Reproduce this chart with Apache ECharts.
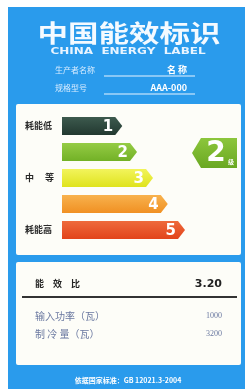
<!DOCTYPE html>
<html>
<head>
<meta charset="utf-8">
<script src="https://cdn.jsdelivr.net/npm/echarts@6/dist/echarts.min.js"></script>
<style>
html,body{margin:0;padding:0;background:#ffffff;}
#c{width:247px;height:389px;}
</style>
</head>
<body>
<div id="c"></div>
<script>
// ---- data ----
const grades = ['1', '2', '3', '4', '5'];
const barLengths = [49, 61, 74, 86, 100];
const sideLabels = ['耗能低', '', '中　 等', '', '耗能高'];
const ratedGrade = 2;
const titleCn = '中国能效标识';
const titleEn = 'CHINA  ENERGY  LABEL';
const infoLabels = ['生产者名称', '规格型号'];
const infoValues = ['名 称', 'AAA-000'];
const eerLabel = '能　效　比';
const eerValue = '3.20';
const specLabels = ['输入功率（瓦）', '制 冷 量（瓦）'];
const specValues = ['1000', '3200'];
const footer = '依据国家标准：GB 12021.3-2004';

// ---- style ----
const CJK = '"Noto Sans CJK SC", "Noto Sans", sans-serif';
const BLUE = '#2a9bec';
const barColors = [['#3d5a4e', '#223830'], ['#95cc45', '#72b126'], ['#f2f45c', '#dfe31c'], ['#f8b24e', '#f09022'], ['#ee6a3c', '#e2431a']];

const chart = echarts.init(document.getElementById('c'), null, {renderer: 'canvas'});

const graphics = [
  {type: 'rect', shape: {x: 8, y: 7, width: 237, height: 382}, style: {fill: BLUE}, z: -10},
  {type: 'rect', shape: {x: 16, y: 104, width: 225, height: 151, r: 2}, style: {fill: '#fdfdf8'}, z: -9},
  {type: 'rect', shape: {x: 16, y: 262, width: 225, height: 103, r: 2}, style: {fill: '#fdfdf8'}, z: -9},
  {type: 'text', x: 129, y: 33, scaleX: 1.27, style: {text: titleCn, fill: '#f4faff', font: 'bold 24px ' + CJK, textAlign: 'center', textVerticalAlign: 'middle'}},
  {type: 'text', x: 128, y: 52, scaleX: 1.5, style: {text: titleEn, fill: '#e8f4ff', font: 'bold 8px "DejaVu Sans", sans-serif', textAlign: 'center', textVerticalAlign: 'middle'}}
];
infoLabels.forEach((t, i) => {
  const y = 70 + i * 18;
  graphics.push({type: 'text', x: 55, y: y, style: {text: t, fill: '#d8ecff', font: '8px ' + CJK, textAlign: 'left', textVerticalAlign: 'middle'}});
  graphics.push({type: 'line', shape: {x1: 104, y1: y + 6, x2: 195, y2: y + 6}, style: {stroke: '#e8f4ff', lineWidth: 1}});
  graphics.push({type: 'text', x: 187, y: y, style: {text: infoValues[i], fill: '#ffffff', font: 'bold 9px ' + CJK, textAlign: 'right', textVerticalAlign: 'middle'}});
});
graphics.push({type: 'text', x: 35, y: 284, style: {text: eerLabel, fill: '#222222', font: 'bold 9px ' + CJK, textAlign: 'left', textVerticalAlign: 'middle'}});
graphics.push({type: 'text', x: 222, y: 284, style: {text: eerValue, fill: '#222222', font: 'bold 11px "DejaVu Sans", sans-serif', textAlign: 'right', textVerticalAlign: 'middle'}});
graphics.push({type: 'line', shape: {x1: 22, y1: 297, x2: 237, y2: 297}, style: {stroke: '#333333', lineWidth: 2}});
specLabels.forEach((t, i) => {
  const y = 316 + i * 18;
  graphics.push({type: 'text', x: 35, y: y, style: {text: t, fill: '#6a78a0', font: '10px ' + CJK, textAlign: 'left', textVerticalAlign: 'middle'}});
  graphics.push({type: 'text', x: 222, y: y, style: {text: specValues[i], fill: '#6a78a0', font: '8px "Liberation Serif", serif', textAlign: 'right', textVerticalAlign: 'middle'}});
});
graphics.push({type: 'text', x: 128, y: 380, style: {text: footer, fill: '#ffffff', font: 'bold 7px ' + CJK, textAlign: 'center', textVerticalAlign: 'middle'}});

chart.setOption({
  animation: false,
  backgroundColor: '#ffffff',
  graphic: graphics,
  grid: {left: 62, top: 113, width: 123, height: 130},
  xAxis: {type: 'value', min: 0, max: 100, show: false},
  yAxis: {
    type: 'category', data: grades, inverse: true,
    axisLine: {show: false}, axisTick: {show: false}, splitLine: {show: false},
    axisLabel: {
      interval: 0, align: 'left', margin: 37,
      formatter: (v, i) => sideLabels[i],
      color: '#2a2a2a', fontWeight: 'bold', fontSize: 9, fontFamily: CJK
    }
  },
  series: [
    {
      type: 'custom',
      data: barLengths.map((v, i) => [i, v]),
      encode: {x: 1, y: 0},
      renderItem: function (params, api) {
        const idx = api.value(0), len = api.value(1);
        const s = api.coord([0, idx]);
        const e = api.coord([len, idx]);
        const h = api.size([0, 1])[1] * 0.7;
        const yt = s[1] - h / 2, yb = s[1] + h / 2, tip = 7;
        const c = barColors[idx];
        return {
          type: 'group',
          children: [
            {
              type: 'polygon',
              shape: {points: [[s[0], yt], [e[0] - tip, yt], [e[0], s[1]], [e[0] - tip, yb], [s[0], yb]]},
              style: {fill: new echarts.graphic.LinearGradient(0, 0, 0, 1, [{offset: 0, color: c[0]}, {offset: 1, color: c[1]}])}
            },
            {
              type: 'text', x: e[0] - 9, y: s[1] + 1,
              style: {text: grades[idx], fill: '#ffffff', font: 'bold 15px "DejaVu Sans", sans-serif', textAlign: 'right', textVerticalAlign: 'middle'}
            }
          ]
        };
      }
    },
    {
      type: 'custom',
      data: [[ratedGrade - 1]],
      encode: {y: 0},
      renderItem: function (params, api) {
        const idx = api.value(0);
        const p = api.coord([100, idx]);
        const left = p[0] + 7, right = left + 45, yc = p[1] + 1;
        const yt = yc - 15, yb = yc + 15;
        return {
          type: 'group',
          children: [
            {
              type: 'polygon',
              shape: {points: [[left, yc], [left + 9, yt], [right, yt], [right, yb], [left + 9, yb]]},
              style: {fill: new echarts.graphic.LinearGradient(0, 0, 0, 1, [{offset: 0, color: '#8cc63c'}, {offset: 1, color: '#6aa822'}])}
            },
            {
              type: 'text', x: left + 24, y: yc + 1,
              style: {text: grades[idx], fill: '#ffffff', font: 'bold 28px "DejaVu Sans", sans-serif', textAlign: 'center', textVerticalAlign: 'middle'}
            },
            {
              type: 'text', x: right - 6, y: yb - 6,
              style: {text: '级', fill: '#ffffff', font: 'bold 6px ' + CJK, textAlign: 'center', textVerticalAlign: 'middle'}
            }
          ]
        };
      }
    }
  ]
});
</script>
</body>
</html>
